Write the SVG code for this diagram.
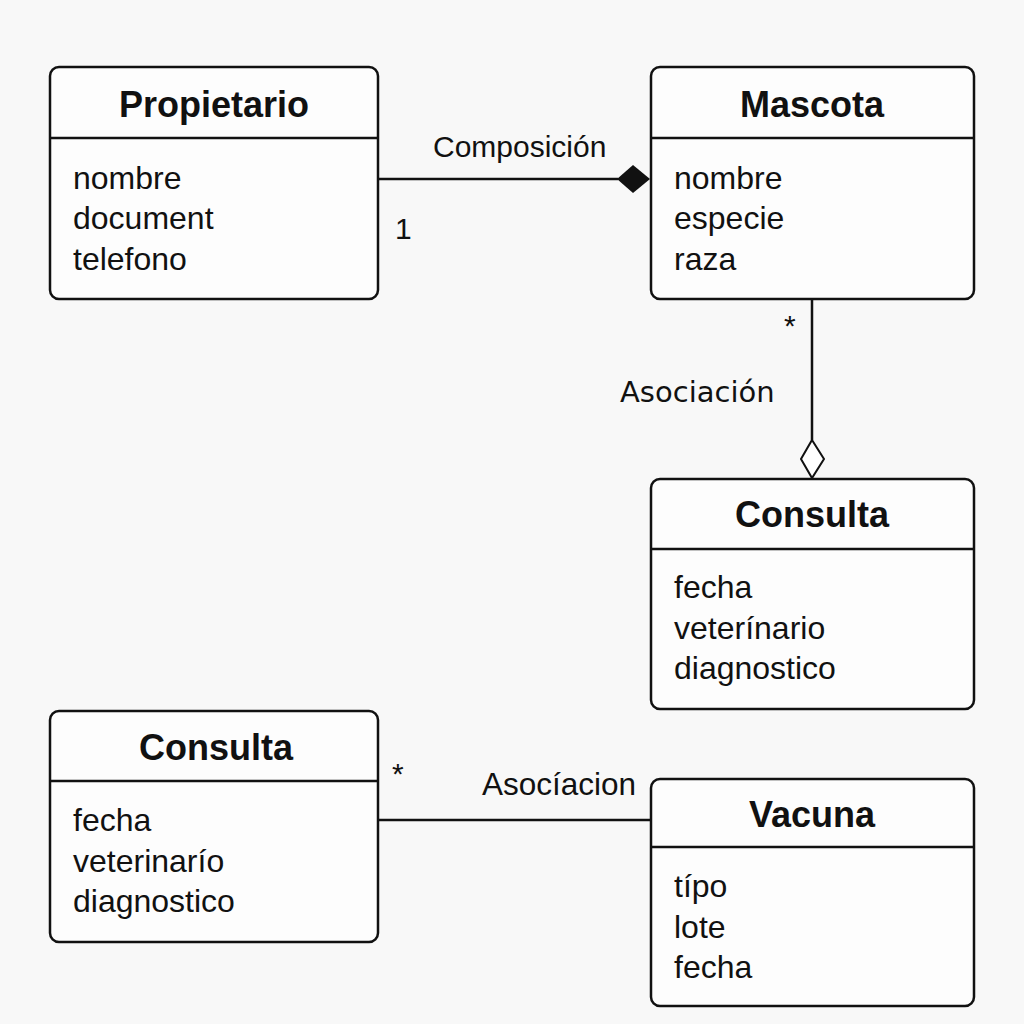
<svg xmlns="http://www.w3.org/2000/svg" width="1024" height="1024" viewBox="0 0 1024 1024">
<style>
.box{fill:#fdfdfd;stroke:#111;stroke-width:2.5}
.sep{stroke:#111;stroke-width:2.5}
.title{font-family:"Liberation Sans",Arial,sans-serif;font-weight:bold;font-size:36px;fill:#111;text-anchor:middle}
.attr{font-family:"Liberation Sans",Arial,sans-serif;font-size:32px;fill:#111}
.lbl{font-family:"Liberation Sans",Arial,sans-serif;font-size:30px;fill:#111}
.lbl2{font-family:"DejaVu Sans",sans-serif;font-size:29px;fill:#111}
.conn{stroke:#111;stroke-width:2.5;fill:none}
</style>
<rect width="1024" height="1024" fill="#f8f8f8"/>
<g id="propietario">
<rect class="box" x="50" y="67" width="328" height="232" rx="9"/>
<line class="sep" x1="50" y1="138" x2="378" y2="138"/>
<text class="title" x="214" y="117">Propietario</text>
<text class="attr" x="73" y="189">nombre</text>
<text class="attr" x="73" y="229">document</text>
<text class="attr" x="73" y="270">telefono</text>
</g>
<g id="mascota">
<rect class="box" x="651" y="67" width="323" height="232" rx="9"/>
<line class="sep" x1="651" y1="138" x2="974" y2="138"/>
<text class="title" x="812" y="117">Mascota</text>
<text class="attr" x="674" y="189">nombre</text>
<text class="attr" x="674" y="229">especie</text>
<text class="attr" x="674" y="270">raza</text>
</g>
<g id="consulta1">
<rect class="box" x="651" y="479" width="323" height="230" rx="9"/>
<line class="sep" x1="651" y1="549" x2="974" y2="549"/>
<text class="title" x="812" y="527">Consulta</text>
<text class="attr" x="674" y="598">fecha</text>
<text class="attr" x="674" y="639">veterínario</text>
<text class="attr" x="674" y="679">diagnostico</text>
</g>
<g id="consulta2">
<rect class="box" x="50" y="711" width="328" height="231" rx="9"/>
<line class="sep" x1="50" y1="781" x2="378" y2="781"/>
<text class="title" x="216" y="760">Consulta</text>
<text class="attr" x="73" y="831">fecha</text>
<text class="attr" x="73" y="872">veterinarío</text>
<text class="attr" x="73" y="912">diagnostico</text>
</g>
<g id="vacuna">
<rect class="box" x="651" y="779" width="323" height="227" rx="9"/>
<line class="sep" x1="651" y1="847" x2="974" y2="847"/>
<text class="title" x="812" y="827">Vacuna</text>
<text class="attr" x="674" y="897">típo</text>
<text class="attr" x="674" y="938">lote</text>
<text class="attr" x="674" y="978">fecha</text>
</g>
<g id="connectors">
<line class="conn" x1="378" y1="179" x2="618" y2="179"/>
<polygon points="617,179 633,165 650,179 633,193" fill="#111"/>
<text class="lbl" x="433" y="157">Composición</text>
<text class="lbl" x="395" y="239">1</text>
<line class="conn" x1="812" y1="299" x2="812" y2="440"/>
<polygon points="812,440 824,459 812,478 801,459" fill="#fff" stroke="#111" stroke-width="2"/>
<text class="lbl" x="784" y="336">*</text>
<text class="lbl2" x="620" y="402">Asociación</text>
<line class="conn" x1="378" y1="820" x2="651" y2="820"/>
<text class="lbl" x="392" y="784">*</text>
<text class="lbl" x="482" y="795" style="font-size:31.5px">Asocíacion</text>
</g>
</svg>
